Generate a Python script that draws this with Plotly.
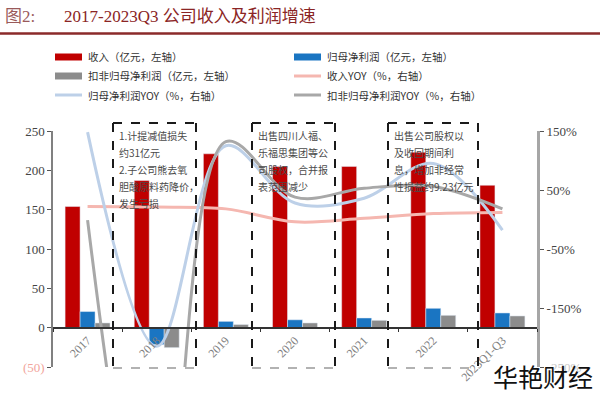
import plotly.graph_objects as go

# ---------------- data ----------------
categories = ["2017", "2018", "2019", "2020", "2021", "2022", "2023Q1-Q3"]
revenue = [154, 187, 221, 205, 205, 223, 181]          # 亿元, left axis
net_profit = [20.5, -21.6, 8.0, 10.0, 12.3, 24.6, 18.7]  # 亿元, left axis
net_profit_ex = [6.0, -25.4, 4.0, 6.0, 9.3, 15.7, 14.9]  # 亿元, left axis
revenue_yoy = [22, 21, 18, -4, 2, 10, 12]                 # %, right axis
net_profit_yoy = [148, -215, 125, 28, 36, 95, -18]        # %, right axis
net_profit_ex_yoy = [-1, -650, 132, 38, 53, 56, 18]       # %, right axis

left_ticks = [250, 200, 150, 100, 50, 0, -50]
left_ticktext = ["250", "200", "150", "100", "50", "0", "<span style='color:#F2A59C'>(50)</span>"]
right_ticks = [150, 50, -50, -150, -250]
right_ticktext = ["150%", "50%", "-50%", "-150%", "<span style='color:#C8C8C8'>-250%</span>"]

legend_names = ["收入（亿元，左轴）", "归母净利润（亿元，左轴）", "扣非归母净利润（亿元，左轴）",
                "收入YOY（%，右轴）", "归母净利润YOY（%，右轴）", "扣非归母净利润YOY（%，右轴）"]

box_texts = [
    ["1.计提减值损失", "约31亿元", "2.子公司熊去氧", "胆酸原料药降价，", "发生亏损"],
    ["出售四川人福、", "乐福思集团等公", "司股权，合并报", "表范围减少"],
    ["出售公司股权以", "及收回期间利", "息，增加非经常", "性损益约9.23亿元"],
]

# ---------------- styling ----------------
RED = "#C00000"
BLUE = "#1A75C2"
GRAY = "#8C8C8C"
PINK = "#F5B7B0"
LBLUE = "#BDD0E8"
LGRAY = "#A8A8A8"
SERIF = "Liberation Serif, DejaVu Serif, Noto Sans CJK SC"
CJK = "Noto Sans CJK SC"

W, H = 600, 397
L, R, T, B = 53, 537, 131, 367  # plot area pixels


def px(x):
    return (x - L) / (R - L)


def py(y):
    return (B - y) / (B - T)


fig = go.Figure()
fig.add_trace(go.Bar(x=categories, y=revenue, name=legend_names[0], marker_color=RED, yaxis="y"))
fig.add_trace(go.Bar(x=categories, y=net_profit, name=legend_names[1], marker_color=BLUE, yaxis="y"))
fig.add_trace(go.Bar(x=categories, y=net_profit_ex, name=legend_names[2], marker_color=GRAY, yaxis="y"))
fig.add_trace(go.Scatter(x=categories, y=revenue_yoy, name=legend_names[3], mode="lines",
                         line=dict(color=PINK, width=3, shape="spline", smoothing=1.0), yaxis="y2"))
fig.add_trace(go.Scatter(x=categories, y=net_profit_yoy, name=legend_names[4], mode="lines",
                         line=dict(color=LBLUE, width=3, shape="spline", smoothing=1.0), yaxis="y2"))
fig.add_trace(go.Scatter(x=categories, y=net_profit_ex_yoy, name=legend_names[5], mode="lines",
                         line=dict(color=LGRAY, width=3, shape="spline", smoothing=1.0), yaxis="y2"))

shapes = []
annotations = []

# title + rule
annotations.append(dict(xref="paper", yref="paper", x=px(3), y=py(17), xanchor="left", yanchor="middle",
                        text="<span style='color:#9A5A5A'>图2:</span>", showarrow=False,
                        font=dict(family=SERIF, size=17)))
annotations.append(dict(xref="paper", yref="paper", x=px(62), y=py(17), xanchor="left", yanchor="middle",
                        text="2017-2023Q3 公司收入及利润增速", showarrow=False,
                        font=dict(family=SERIF, size=17, color="#8B2525")))
shapes.append(dict(type="line", xref="paper", yref="paper", x0=px(0), x1=px(600), y0=py(33.5), y1=py(33.5),
                   line=dict(color="#8B2A2A", width=2.5)))

# manual legend
leg = [
    (55, 57, "bar", RED, legend_names[0]),
    (294, 57, "bar", BLUE, legend_names[1]),
    (55, 76, "bar", GRAY, legend_names[2]),
    (294, 76, "line", PINK, legend_names[3]),
    (55, 95, "line", LBLUE, legend_names[4]),
    (294, 95, "line", LGRAY, legend_names[5]),
]
for x0, yc, kind, col, name in leg:
    if kind == "bar":
        shapes.append(dict(type="rect", xref="paper", yref="paper", x0=px(x0), x1=px(x0 + 27),
                           y0=py(yc + 3.5), y1=py(yc - 3.5), fillcolor=col, line=dict(width=0)))
    else:
        shapes.append(dict(type="line", xref="paper", yref="paper", x0=px(x0), x1=px(x0 + 27),
                           y0=py(yc), y1=py(yc), line=dict(color=col, width=3)))
    annotations.append(dict(xref="paper", yref="paper", x=px(x0 + 31), y=py(yc), xanchor="left",
                            yanchor="middle", text=name, showarrow=False,
                            font=dict(family=CJK, size=10.5, color="#333333")))

# dashed boxes
boxes = [(113, 196), (252, 335), (388, 478)]
for (bx0, bx1), lines in zip(boxes, box_texts):
    top, bot = 123, 368
    for xx in (bx0, bx1):
        shapes.append(dict(type="line", xref="paper", yref="paper", x0=px(xx), x1=px(xx),
                           y0=py(top), y1=py(bot), line=dict(color="#1A1A1A", width=2, dash="dash")))
    shapes.append(dict(type="line", xref="paper", yref="paper", x0=px(bx0), x1=px(bx1),
                       y0=py(top), y1=py(top), line=dict(color="#1A1A1A", width=2, dash="dash")))
    shapes.append(dict(type="line", xref="paper", yref="paper", x0=px(bx0), x1=px(bx1),
                       y0=py(bot), y1=py(bot), line=dict(color="#999999", width=1.5, dash="dash")))
    for i, t in enumerate(lines):
        annotations.append(dict(xref="paper", yref="paper", x=px(bx0 + 4), y=py(135 + 17 * i),
                                xanchor="left", yanchor="middle", text=t, showarrow=False,
                                font=dict(family=CJK, size=10, color="#4A4A4A")))

# watermark
annotations.append(dict(xref="paper", yref="paper", x=px(595), y=py(396), xanchor="right", yanchor="bottom",
                        text="华艳财经", showarrow=False,
                        font=dict(family=CJK, size=25, color="#111111")))

fig.update_layout(
    width=W, height=H,
    margin=dict(l=L, r=W - R, t=T, b=H - B, pad=0),
    paper_bgcolor="white", plot_bgcolor="white",
    barmode="group", bargap=0.35, bargroupgap=0,
    showlegend=False,
    shapes=shapes, annotations=annotations,
    xaxis=dict(type="category", range=[-0.5, 6.5], anchor="free", position=py(328),
               showline=True, linecolor="#333333", linewidth=1.5,
               ticks="outside", ticklen=3, tickcolor="#333333", tickson="boundaries",
               tickangle=-45, tickfont=dict(family=SERIF, size=12, color="#808080"),
               showgrid=False, zeroline=False),
    yaxis=dict(range=[-50, 250], tickvals=left_ticks, ticktext=left_ticktext,
               showline=True, linecolor="#808080", linewidth=1.5,
               ticks="outside", ticklen=4, tickcolor="#555555",
               tickfont=dict(family=SERIF, size=13, color="#444444"),
               showgrid=False, zeroline=False),
    yaxis2=dict(range=[-250, 150], overlaying="y", side="right", tickvals=right_ticks,
                ticktext=right_ticktext, showline=True, linecolor="#A6A6A6", linewidth=3,
                ticks="outside", ticklen=4, tickcolor="#555555",
                tickfont=dict(family=SERIF, size=13, color="#444444"),
                showgrid=False, zeroline=False),
)

fig.write_html("out.html", config={"displayModeBar": False},
               post_script="document.body.style.margin='0';")
